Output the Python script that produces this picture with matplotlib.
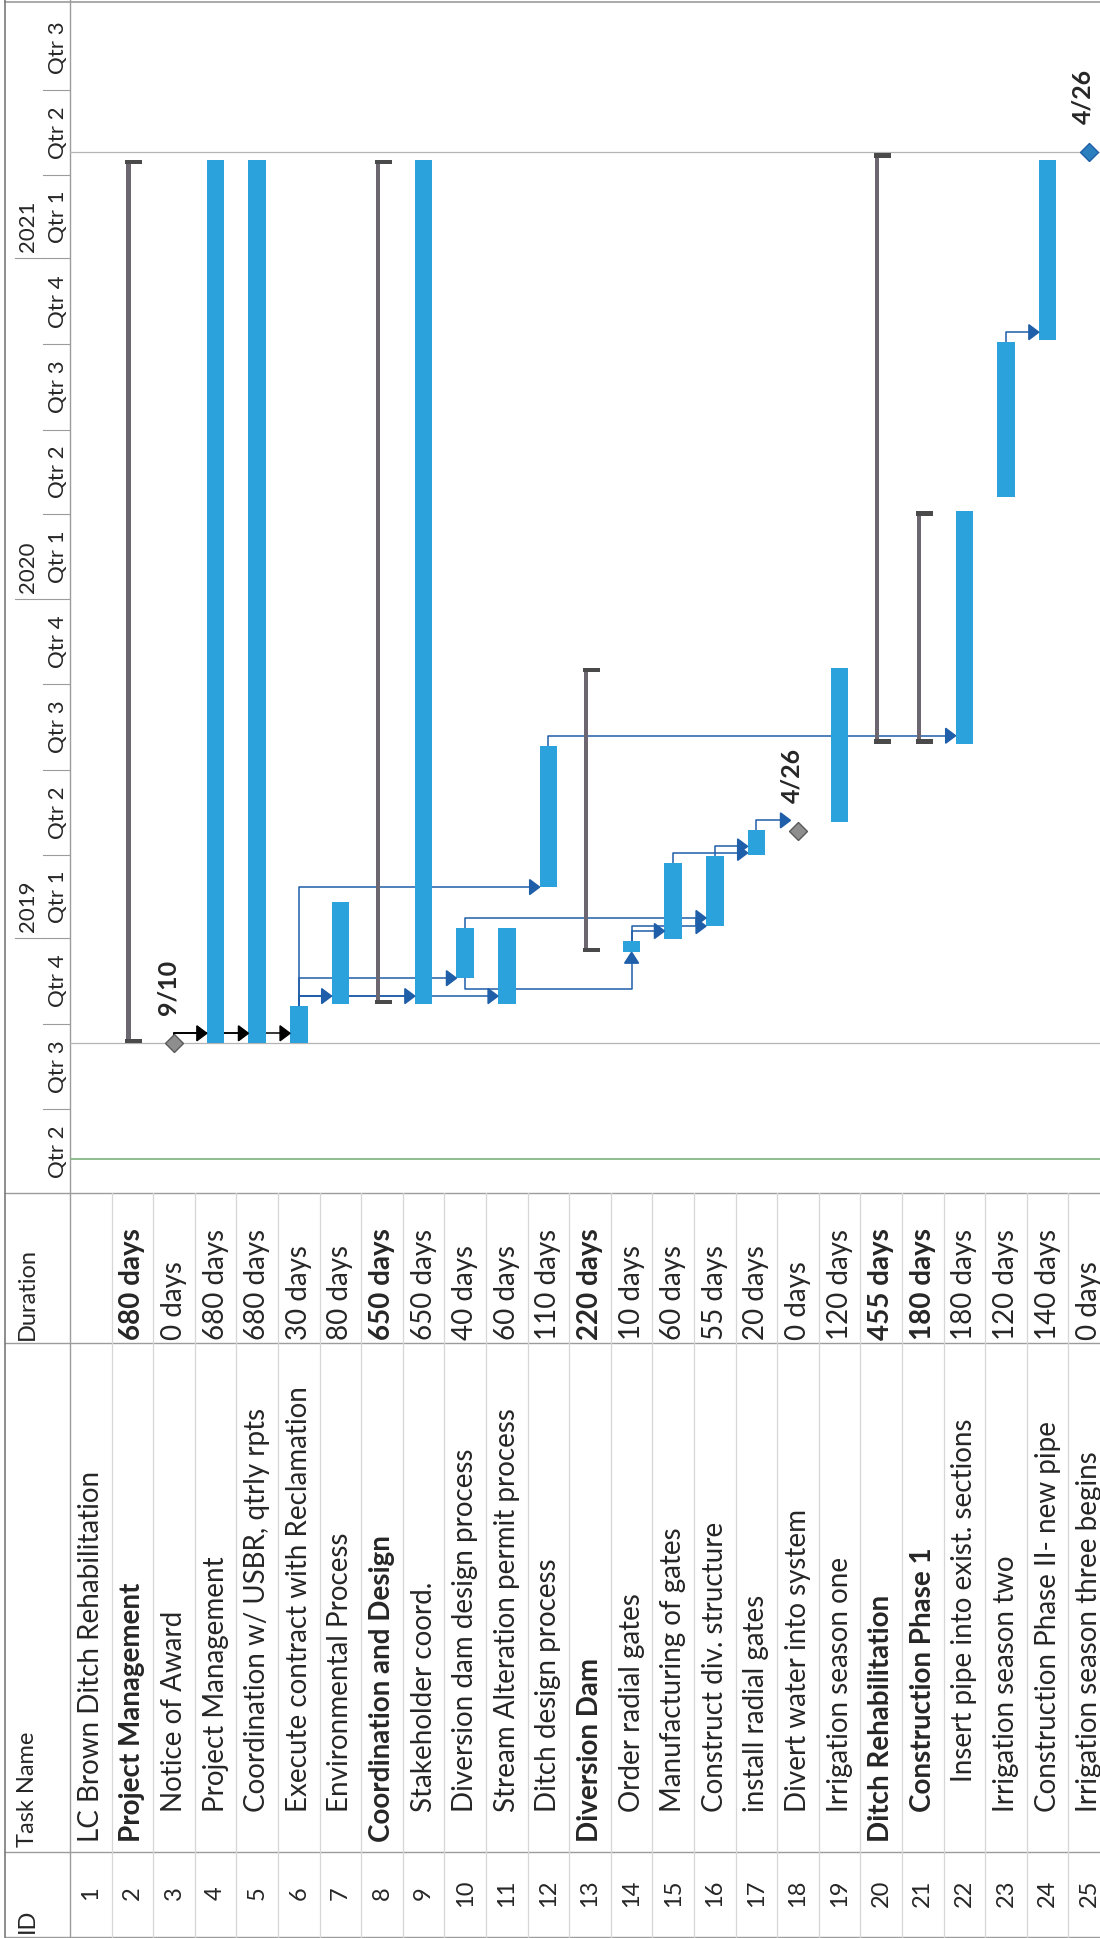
import numpy as np
import matplotlib
matplotlib.use("Agg")
import matplotlib.pyplot as plt
import matplotlib.dates as mdates
from matplotlib.patches import Polygon

plt.rcParams["font.family"] = ["Lato", "DejaVu Sans"]

task_ids = list(range(1, 26))
task_names = [
    "LC Brown Ditch Rehabilitation",
    "Project Management",
    "Notice of Award",
    "Project Management",
    "Coordination w/ USBR, qtrly rpts",
    "Execute contract with Reclamation",
    "Environmental Process",
    "Coordination and Design",
    "Stakeholder coord.",
    "Diversion dam design process",
    "Stream Alteration permit process",
    "Ditch design process",
    "Diversion Dam",
    "Order radial gates",
    "Manufacturing of gates",
    "Construct div. structure",
    "install radial gates",
    "Divert water into system",
    "Irrigation season one",
    "Ditch Rehabilitation",
    "Construction Phase 1",
    "Insert pipe into exist. sections",
    "Irrigation season two",
    "Construction Phase II- new pipe",
    "Irrigation season three begins",
]
outline_level = [1, 1, 2, 2, 2, 2, 2, 1, 2, 2, 2, 2, 1, 2, 2, 2, 2, 2, 2, 1, 2, 3, 2, 2, 2]
duration_days = [None, 680, 0, 680, 680, 30, 80, 650, 650, 40, 60, 110, 220,
                 10, 60, 55, 20, 0, 120, 455, 180, 180, 120, 140, 0]
start_dates = [None, "2018-09-10", "2018-09-10", "2018-09-10", "2018-09-10",
               "2018-09-10", "2018-10-22", "2018-10-22", "2018-10-22",
               "2018-11-19", "2018-10-22", "2019-02-25", "2018-12-17",
               "2018-12-17", "2018-12-31", "2019-01-14", "2019-04-01",
               "2019-04-26", "2019-05-06", "2019-07-29", "2019-07-29",
               "2019-07-29", "2020-04-20", "2020-10-05", "2021-04-26"]
summary_ids = [2, 8, 13, 20, 21]
milestone_labels = {3: "9/10", 18: "4/26", 25: "4/26"}
# (predecessor, successor, link type)
links = [(3, 4, "FS"), (3, 5, "FS"), (3, 6, "FS"),
         (6, 7, "FS"), (6, 9, "FS"), (6, 11, "FS"), (6, 10, "FS"), (6, 12, "FS"),
         (10, 14, "SS"), (14, 15, "FS"), (14, 16, "FS"), (10, 16, "FS"),
         (15, 17, "FS"), (16, 17, "FS"), (17, 18, "FS"),
         (12, 22, "FS"), (23, 24, "FS")]
project_start = "2018-09-10"
project_finish = "2021-04-26"
status_date = "2018-05-09"
view_start, view_end = "2018-04-02", "2021-10-06"

# ---------------- layout (pixels) ----------------
W, H = 1100, 1938
ROW_H = 41.6
LEFT = 70          # header column / grid boundary
CHART_BOTTOM = 1193
COL_DUR = 1343
COL_NAME = 1852
BOTTOM = 1937

BAR_BLUE = "#2ba2db"
SUMMARY = "#6c6670"
LINK = "#1f5ea8"
TXT = "#262626"
GRID = "#9c9c9c"


def dnum(d):
    return mdates.date2num(np.datetime64(d, "D"))


def finish_of(start, dur):
    if dur == 0:
        return np.datetime64(start, "D")
    return np.busday_offset(start, dur - 1, roll="forward") + np.timedelta64(1, "D")


starts, finishes = {}, {}
for tid, s, d in zip(task_ids, start_dates, duration_days):
    if s is None:
        continue
    starts[tid] = dnum(s)
    finishes[tid] = dnum(finish_of(s, d))

fig = plt.figure(figsize=(W / 100, H / 100), dpi=100)
fig.patch.set_facecolor("white")

xlim = (0.5, 0.5 + (W - LEFT) / ROW_H)
ylim = (dnum(view_start), dnum(view_end))
px_day = CHART_BOTTOM / (ylim[1] - ylim[0])   # pixels per day
px_row = ROW_H                                  # pixels per row

ax = fig.add_axes([LEFT / W, (H - CHART_BOTTOM) / H, (W - LEFT) / W, CHART_BOTTOM / H])
ax.set_xlim(*xlim)
ax.set_ylim(*ylim)
ax.axis("off")

# project start / finish and status lines
for d in (project_start, project_finish):
    ax.axhline(dnum(d), color="#b4b4b4", lw=0.9, zorder=1)
ax.axhline(dnum(status_date), color="#86b882", lw=1.3, zorder=1)

# normal task bars
bar_w = 17.5 / px_row
norm = [t for t in starts if t not in summary_ids and duration_days[t - 1] > 0]
ax.bar(norm, [finishes[t] - starts[t] for t in norm],
       bottom=[starts[t] for t in norm], width=bar_w, color=BAR_BLUE, zorder=3)

# summary bars: thin stem plus end caps
stem_off, stem_w = -4 / px_row, 4.5 / px_row
cap_off, cap_w = 1.5 / px_row, 17 / px_row
cap_h = 4.5 / px_day
for t in summary_ids:
    ax.bar(t + stem_off, finishes[t] - starts[t], bottom=starts[t],
           width=stem_w, color=SUMMARY, zorder=3)
    ax.bar([t + cap_off] * 2, [cap_h, cap_h],
           bottom=[starts[t], finishes[t] - cap_h], width=cap_w,
           color="#4a4a4a", zorder=4)

# milestones
for t, lab in milestone_labels.items():
    col = "#2b7fbd" if t == 25 else "#8e8e8e"
    ec = "#1f5ea8" if t == 25 else "#5a5a5a"
    ax.plot(t, starts[t], marker="D", ms=9.5, color=col, mec=ec, mew=1.0, zorder=5)
    ax.text(t - 6 / px_row, starts[t] + 28 / px_day, lab, rotation=90,
            rotation_mode="anchor", ha="left", va="center", fontsize=18,
            fontweight="bold", color=TXT, zorder=6)

# dependency links
arr_len = 10 / px_row
arr_half = 7.5 / px_day
gap = 10 / px_day
half_bar = bar_w / 2
for p, s, kind in links:
    col = "black" if p == 3 else LINK
    if kind == "SS":
        y0 = starts[p]
        y1 = y0 - 11 / px_day
        tip = starts[s]
        al = 11 / px_day
        ax.plot([p, p, s, s], [y0, y1, y1, tip - al], color=col, lw=1.1, zorder=2)
        ax.add_patch(Polygon([[s, tip], [s - 7 / px_row, tip - al], [s + 7 / px_row, tip - al]],
                             closed=True, color=col, zorder=6))
        continue
    ya = max(starts[s], finishes[p] + gap)
    x_tip = s - (7.5 / px_row if duration_days[s - 1] == 0 else half_bar)
    ax.plot([p, p, x_tip - arr_len], [finishes[p], ya, ya], color=col, lw=1.1, zorder=2)
    ax.add_patch(Polygon([[x_tip, ya], [x_tip - arr_len, ya + arr_half],
                          [x_tip - arr_len, ya - arr_half]],
                         closed=True, color=col, zorder=6))

# ---------------- timescale header ----------------
axs = fig.add_axes([0, (H - CHART_BOTTOM) / H, LEFT / W, CHART_BOTTOM / H])
axs.set_xlim(0, LEFT)
axs.set_ylim(*ylim)
axs.axis("off")
quarters = np.arange(np.datetime64("2018-04"), np.datetime64("2021-10"), 3)
for q in quarters:
    q0 = dnum(q.astype("datetime64[D]"))
    q1 = dnum((q + 3).astype("datetime64[D]"))
    qn = (int(str(q)[5:7]) - 1) // 3 + 1
    axs.plot([43, LEFT], [q0, q0], color=GRID, lw=0.8)
    axs.text(58, (q0 + q1) / 2, f"Qtr {qn}", rotation=90, ha="center",
             va="center", fontsize=16, color=TXT, clip_on=True)
    if qn == 1:
        axs.plot([15, 43], [q0, q0], color=GRID, lw=0.8)
        axs.text(28, q0 + 6 / px_day, str(q)[:4], rotation=90,
                 rotation_mode="anchor", ha="left", va="center",
                 fontsize=16, color=TXT)

# ---------------- table ----------------
axt = fig.add_axes([LEFT / W, 0, (W - LEFT) / W, (H - CHART_BOTTOM) / H])
axt.set_xlim(*xlim)
axt.set_ylim(H, CHART_BOTTOM)
axt.axis("off")
for k in range(1, 26):
    axt.plot([k + 0.5, k + 0.5], [CHART_BOTTOM, BOTTOM], color="#d6d6d6", lw=0.9)
name_start = {1: 1842, 2: 1812, 3: 1782}
for tid, name, lvl, d in zip(task_ids, task_names, outline_level, duration_days):
    bold = "bold" if tid in summary_ids else "normal"
    axt.text(tid, 1893, str(tid), rotation=90, ha="center", va="center",
             fontsize=17, color=TXT)
    axt.text(tid, name_start[lvl], name, rotation=90, rotation_mode="anchor",
             ha="left", va="center", fontsize=20, fontweight=bold, color=TXT)
    if d is not None:
        axt.text(tid, 1340, f"{d} days", rotation=90, rotation_mode="anchor",
                 ha="left", va="center", fontsize=20, fontweight=bold, color=TXT)

# header column texts and frame lines
axf = fig.add_axes([0, 0, 1, 1], zorder=-1)
axf.set_xlim(0, W)
axf.set_ylim(H, 0)
axf.axis("off")
for label, y in (("ID", 1933), ("Task Name", 1847), ("Duration", 1340)):
    axf.text(27, y, label, rotation=90, rotation_mode="anchor", ha="left",
             va="center", fontsize=17, color=TXT)
for y in (CHART_BOTTOM, COL_DUR, COL_NAME, BOTTOM):
    axf.plot([5, W], [y, y], color=GRID, lw=1.0)
axf.plot([5, W], [1.5, 1.5], color=GRID, lw=1.2)
axf.plot([5, 5], [0, BOTTOM], color="#7a7a7a", lw=1.2)
axf.plot([LEFT, LEFT], [0, BOTTOM], color=GRID, lw=1.0)

fig.savefig("out.png", dpi=100, facecolor="white")
